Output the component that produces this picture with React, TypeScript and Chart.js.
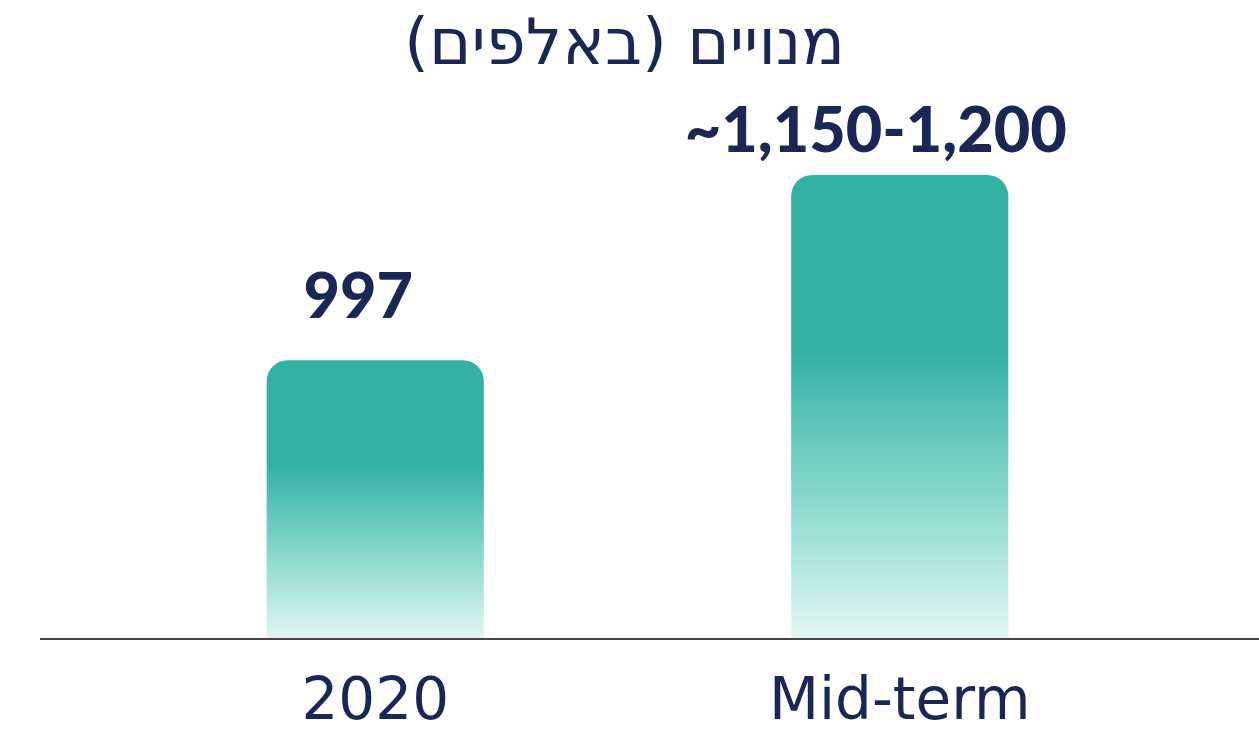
import React, { useEffect, useRef } from "react";
import { Chart, registerables } from "chart.js";

Chart.register(...registerables);

const titleText = "מנויים (באלפים)";
const categories = ["2020", "Mid-term"];
const subscribers = [997, 1175];
const valueLabels = ["997", "~1,150-1,200"];

const NAVY = "#1a2754";

const titlePlugin = {
  id: "rtlTitle",
  afterDraw(chart: any) {
    const ctx = chart.ctx;
    ctx.save();
    ctx.direction = "rtl";
    ctx.fillStyle = NAVY;
    ctx.textAlign = "center";
    ctx.textBaseline = "middle";
    ctx.font = "64px 'DejaVu Sans', sans-serif";
    ctx.fillText(titleText, chart.width / 2 - 5, 47);
    ctx.restore();
  },
};

const labelPlugin = {
  id: "barLabels",
  afterDatasetsDraw(chart: any) {
    const ctx = chart.ctx;
    const meta = chart.getDatasetMeta(0);
    const gaps = [42, 23];
    const shifts = [-17, -24];
    ctx.save();
    ctx.fillStyle = NAVY;
    ctx.textAlign = "center";
    ctx.textBaseline = "alphabetic";
    ctx.font = "900 63px Lato, 'Open Sans', sans-serif";
    meta.data.forEach((bar: any, i: number) => {
      ctx.fillText(valueLabels[i], bar.x + shifts[i], bar.y - gaps[i]);
    });
    ctx.restore();
  },
};

const baselinePlugin = {
  id: "baseline",
  afterDatasetsDraw(chart: any) {
    const ctx = chart.ctx;
    const y = chart.scales.y.getPixelForValue(chart.scales.y.min);
    ctx.save();
    ctx.strokeStyle = "#444444";
    ctx.lineWidth = 2;
    ctx.beginPath();
    ctx.moveTo(40, y + 1);
    ctx.lineTo(chart.width, y + 1);
    ctx.stroke();
    ctx.restore();
  },
};

export default function App() {
  const ref = useRef<HTMLCanvasElement | null>(null);
  useEffect(() => {
    document.body.style.margin = "0";
    const canvas = ref.current;
    if (!canvas) return;
    const chart = new Chart(canvas, {
      type: "bar",
      data: {
        labels: categories,
        datasets: [
          {
            data: subscribers,
            backgroundColor: (c: any) => {
              const ch = c.chart;
              const ys = ch.scales?.y;
              if (!ch.chartArea || !ys || c.parsed == null) return "#35b0a5";
              const top = ys.getPixelForValue(c.parsed.y);
              const bottom = ys.getPixelForValue(ys.min);
              const g = ch.ctx.createLinearGradient(0, top, 0, bottom);
              g.addColorStop(0, "#35b0a5");
              g.addColorStop(0.38, "#35b0a5");
              g.addColorStop(0.6, "#6ecdc0");
              g.addColorStop(0.82, "#ace5dc");
              g.addColorStop(1, "#e2f6f2");
              return g;
            },
            borderWidth: 0,
            borderRadius: { topLeft: 21, topRight: 21, bottomLeft: 0, bottomRight: 0 },
            borderSkipped: "bottom",
            categoryPercentage: 1,
            barPercentage: 0.414,
          },
        ],
      },
      options: {
        animation: false,
        responsive: true,
        maintainAspectRatio: false,
        layout: { padding: { left: 113, right: 97, top: 100, bottom: 0 } },
        plugins: {
          legend: { display: false },
          tooltip: { enabled: false },
          title: { display: false },
        },
        scales: {
          x: {
            grid: { display: false, drawTicks: false },
            border: { display: false },
            afterFit: (scale: any) => {
              scale.height = 96;
            },
            ticks: {
              color: NAVY,
              padding: 31,
              font: { family: "'DejaVu Sans', sans-serif", size: 58, weight: "normal" },
            },
          },
          y: {
            display: false,
            min: 730,
            max: 1247,
          },
        },
      },
      plugins: [labelPlugin, baselinePlugin, titlePlugin],
    });
    return () => chart.destroy();
  }, []);
  return (
    <div style={{ width: 1259, height: 734, position: "relative" }}>
      <canvas ref={ref} />
    </div>
  );
}
